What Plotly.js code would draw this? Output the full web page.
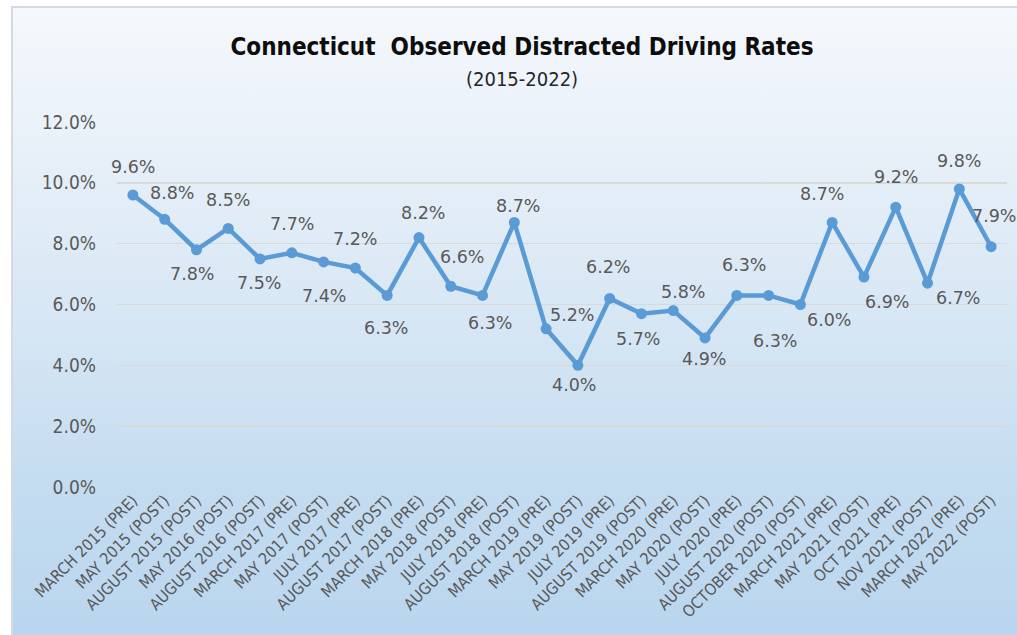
<!DOCTYPE html>
<html>
<head>
<meta charset="utf-8">
<script src="https://cdn.plot.ly/plotly-3.0.1.min.js"></script>
<style>
  html, body { margin: 0; padding: 0; background: #ffffff; width: 1017px; height: 635px; overflow: hidden; }
  #box { position: absolute; left: 11px; top: 6px; width: 1030px; height: 640px;
         border-left: 2px solid #d6dadf; border-top: 2px solid #d6dadf;
         background: linear-gradient(to bottom, #f5f8fc 0%, #e6eff8 25%, #d6e6f4 50%, #c4dcf0 75%, #b8d5ee 100%); }
  #chart { position: absolute; left: 0; top: 0; width: 1017px; height: 635px; }
</style>
</head>
<body>
<div id="box"></div>
<div id="chart"></div>
<script>
// ---- data ----
const categories = [
  "MARCH 2015 (PRE)", "MAY 2015 (POST)", "AUGUST 2015 (POST)", "MAY 2016 (POST)",
  "AUGUST 2016 (POST)", "MARCH 2017 (PRE)", "MAY 2017 (POST)", "JULY 2017 (PRE)",
  "AUGUST 2017 (POST)", "MARCH 2018 (PRE)", "MAY 2018 (POST)", "JULY 2018 (PRE)",
  "AUGUST 2018 (POST)", "MARCH 2019 (PRE)", "MAY 2019 (POST)", "JULY 2019 (PRE)",
  "AUGUST 2019 (POST)", "MARCH 2020 (PRE)", "MAY 2020 (POST)", "JULY 2020 (PRE)",
  "AUGUST 2020 (POST)", "OCTOBER 2020 (POST)", "MARCH 2021 (PRE)", "MAY 2021 (POST)",
  "OCT 2021 (PRE)", "NOV 2021 (POST)", "MARCH 2022 (PRE)", "MAY 2022 (POST)"
];
const rates = [
  9.6, 8.8, 7.8, 8.5, 7.5, 7.7, 7.4, 7.2, 6.3, 8.2, 6.6, 6.3, 8.7, 5.2,
  4.0, 6.2, 5.7, 5.8, 4.9, 6.3, 6.3, 6.0, 8.7, 6.9, 9.2, 6.7, 9.8, 7.9
];
const yTickValues = [0, 2, 4, 6, 8, 10, 12];
const yTickLabels = ["0.0%", "2.0%", "4.0%", "6.0%", "8.0%", "10.0%", "12.0%"];

// ---- label placement (pixel offsets from each point) ----
const labelDx = [0, 7, -4, 0, -1, 0, 0, 0, -1, 4, 11, 7, 4, 26,
                 -4, -2, -3, 10, -1, 7, 6, 29, -10, 23, 0, 30, 0, 3];
const labelDy = [-28, -26, 24, -28, 24, -29, 34, -29, 33, -25, -29, 28, -16, -14,
                 20, -31, 25, -19, 21, -30, 46, 15, -28, 25, -30, 15, -28, -31];

const textColor = "#595959";
const lineColor = "#5b9bd5";
const narrowFont = "Liberation Sans Narrow, DejaVu Sans Condensed, sans-serif";

const trace = {
  type: "scatter",
  mode: "lines+markers",
  x: categories,
  y: rates,
  line: { color: lineColor, width: 4.5 },
  marker: { color: lineColor, size: 11 },
  hoverinfo: "x+y",
  cliponaxis: false
};

const annotations = rates.map((v, i) => ({
  x: categories[i], y: v, xref: "x", yref: "y",
  text: v.toFixed(1) + "%",
  showarrow: false,
  xshift: labelDx[i], yshift: -labelDy[i],
  font: { family: "DejaVu Sans, Verdana, sans-serif", size: 17.5, color: textColor }
}));

// subtitle, positioned in paper coordinates (plot area 117..1007 x 122..487 px)
annotations.push({
  text: "(2015-2022)", xref: "paper", yref: "paper",
  x: (522 - 117) / 890, y: (487 - 79) / 365, xanchor: "center", yanchor: "middle",
  showarrow: false,
  font: { family: narrowFont, size: 20, color: "#262626" }
});

const layout = {
  width: 1017, height: 635,
  margin: { l: 117, r: 10, t: 122, b: 148 },
  paper_bgcolor: "rgba(0,0,0,0)",
  plot_bgcolor: "rgba(0,0,0,0)",
  showlegend: false,
  title: {
    text: "<b>Connecticut\u00a0 Observed Distracted Driving Rates</b>",
    xref: "container", yref: "container",
    x: 522 / 1017, y: 1 - 47 / 635, xanchor: "center", yanchor: "middle",
    font: { family: narrowFont, size: 24, color: "#0d0d0d" }
  },
  xaxis: {
    type: "category",
    range: [-0.5, categories.length - 0.5],
    tickangle: -45,
    tickfont: { family: narrowFont, size: 16, color: textColor },
    showgrid: false, showline: false, zeroline: false,
    ticks: "", ticklabelstandoff: 0,
    fixedrange: true
  },
  yaxis: {
    range: [0, 12],
    tickvals: yTickValues,
    ticktext: yTickLabels,
    tickfont: { family: narrowFont, size: 19, color: textColor },
    showgrid: true, gridcolor: "#d9d9d9", gridwidth: 1.5,
    zeroline: false, showline: false, ticks: "",
    ticklabelstandoff: 20,
    fixedrange: true
  },
  annotations: annotations
};

Plotly.newPlot("chart", [trace], layout, { displayModeBar: false, staticPlot: true });
</script>
</body>
</html>
